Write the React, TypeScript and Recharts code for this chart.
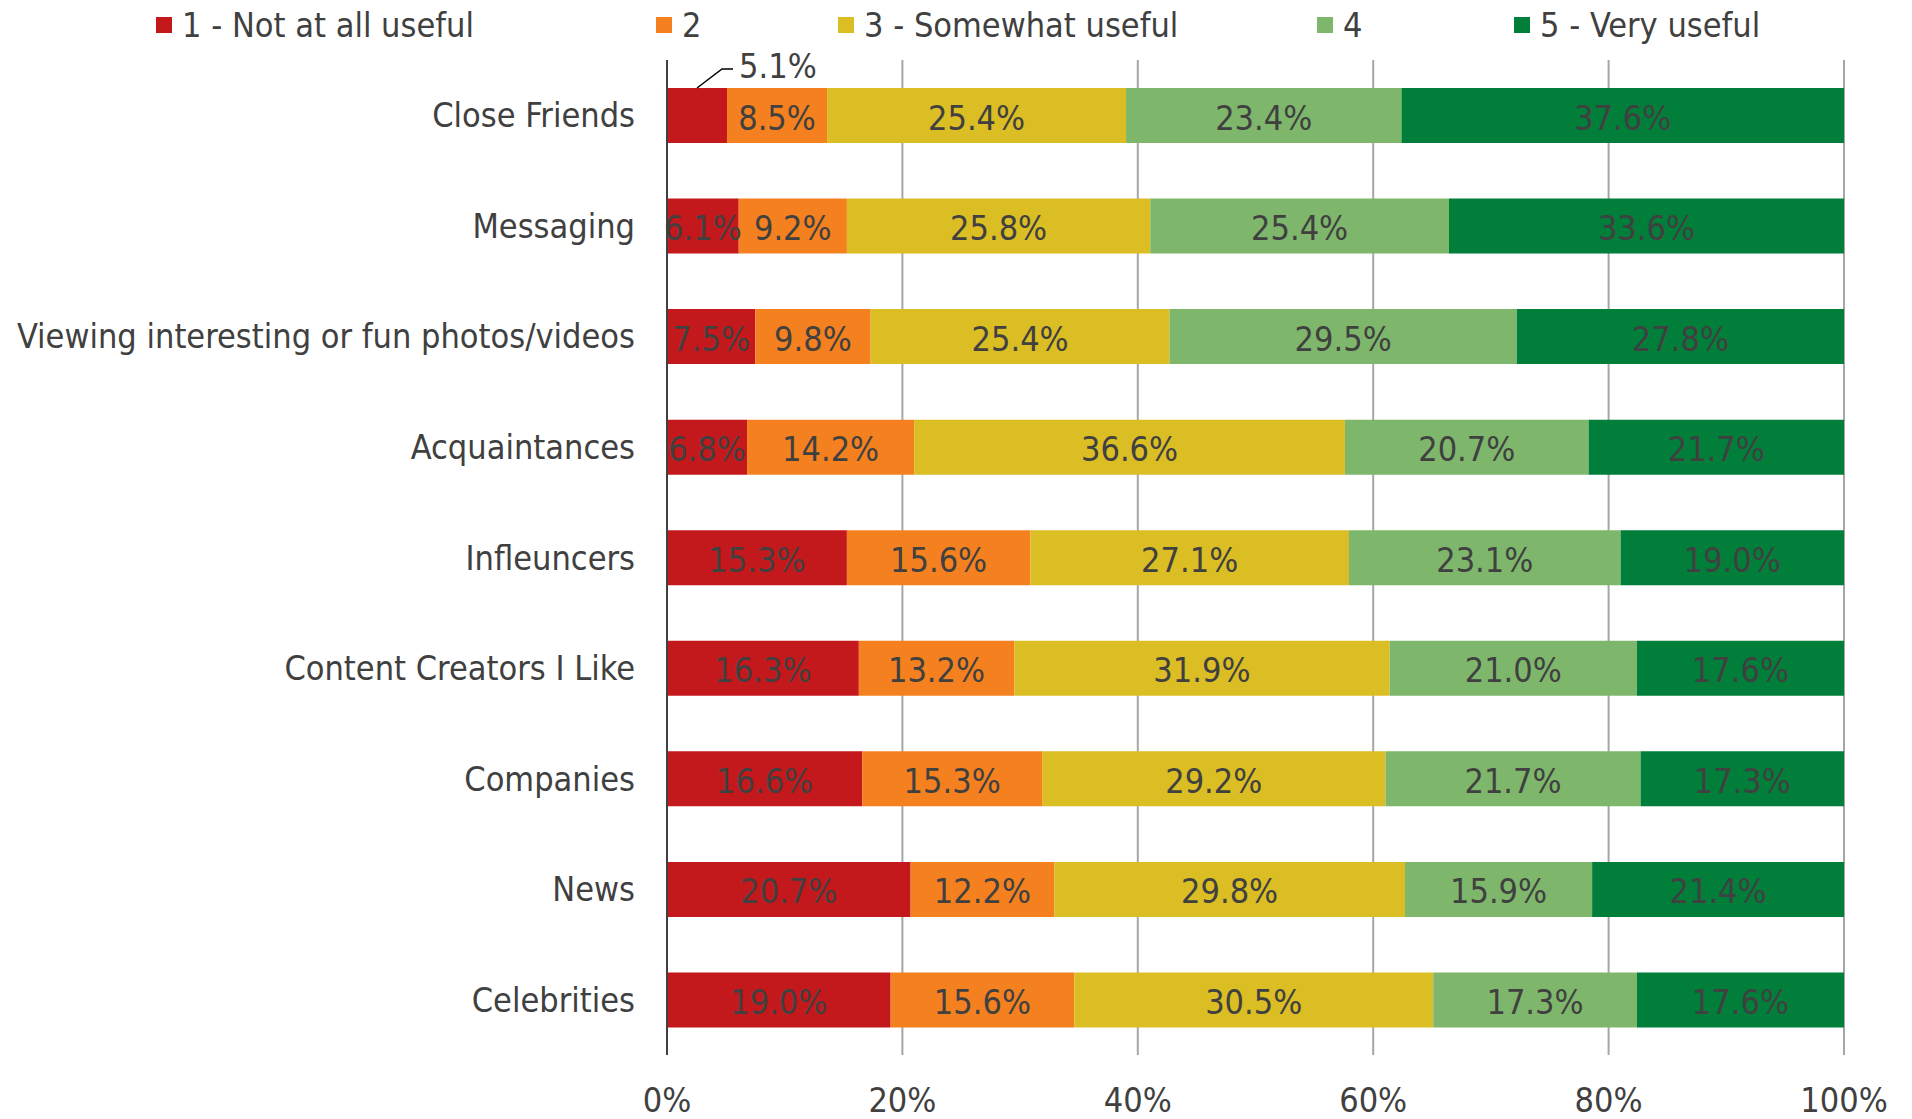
import { BarChart, Bar, XAxis, YAxis, CartesianGrid, LabelList } from 'recharts';

const CATEGORIES = [
    'Close Friends',
    'Messaging',
    'Viewing interesting or fun photos/videos',
    'Acquaintances',
    'Infleuncers',
    'Content Creators I Like',
    'Companies',
    'News',
    'Celebrities',
];

const NOT_USEFUL = [5.1, 6.1, 7.5, 6.8, 15.3, 16.3, 16.6, 20.7, 19.0];
const RATING_2 = [8.5, 9.2, 9.8, 14.2, 15.6, 13.2, 15.3, 12.2, 15.6];
const SOMEWHAT_USEFUL = [25.4, 25.8, 25.4, 36.6, 27.1, 31.9, 29.2, 29.8, 30.5];
const RATING_4 = [23.4, 25.4, 29.5, 20.7, 23.1, 21.0, 21.7, 15.9, 17.3];
const VERY_USEFUL = [37.6, 33.6, 27.8, 21.7, 19.0, 17.6, 17.3, 21.4, 17.6];

const SERIES_NAMES = ['1 - Not at all useful', '2', '3 - Somewhat useful', '4', '5 - Very useful'];
const X_TICKS = [0, 0.2, 0.4, 0.6, 0.8, 1];

const SERIES = [NOT_USEFUL, RATING_2, SOMEWHAT_USEFUL, RATING_4, VERY_USEFUL];
const KEYS = ['s1', 's2', 's3', 's4', 's5'];
const COLORS = ['#C4191C', '#F4801F', '#DBBD24', '#7EB76B', '#007E3A'];
// left edge of each legend swatch
const LEGEND_LEFT = [156, 656, 838, 1317, 1514];

const FONT = "'DejaVu Sans Condensed', 'DejaVu Sans', sans-serif";
const TEXT = '#404040';
const FONT_SIZE = 34;

const data = CATEGORIES.map((name, i) => {
    const row: Record<string, string | number> = { name };
    KEYS.forEach((k, s) => {
        row[k] = SERIES[s][i];
    });
    return row;
});

function makeLabel(seriesIdx: number) {
    return (props: any) => {
        const { x, y, width, height, index } = props;
        const value = SERIES[seriesIdx][index];
        const text = `${value.toFixed(1)}%`;
        // the tiny first segment gets its label outside, with a leader line
        if (seriesIdx === 0 && index === 0) {
            const cx = x + width / 2;
            return (
                <g>
                    <polyline
                        points={`${cx},${y} ${cx + 25},${y - 19} ${cx + 36},${y - 19}`}
                        fill="none"
                        stroke="#000"
                        strokeWidth={1.5}
                    />
                    <text
                        x={cx + 42}
                        y={y - 22}
                        fill={TEXT}
                        fontSize={FONT_SIZE}
                        fontFamily={FONT}
                        dominantBaseline="central"
                    >
                        {text}
                    </text>
                </g>
            );
        }
        return (
            <text
                x={x + width / 2}
                y={y + height / 2 + 2}
                fill={TEXT}
                fontSize={FONT_SIZE}
                fontFamily={FONT}
                textAnchor="middle"
                dominantBaseline="central"
            >
                {text}
            </text>
        );
    };
}

function TopLegend() {
    return (
        <div
            style={{
                position: 'absolute',
                top: 6,
                left: 0,
                width: 1912,
                height: 38,
                fontFamily: FONT,
                fontSize: FONT_SIZE,
                color: TEXT,
                lineHeight: '38px',
            }}
        >
            {SERIES_NAMES.map((name, i) => (
                <div
                    key={name}
                    style={{
                        position: 'absolute',
                        left: LEGEND_LEFT[i],
                        top: 0,
                        display: 'flex',
                        alignItems: 'center',
                        whiteSpace: 'nowrap',
                    }}
                >
                    <span
                        style={{
                            display: 'inline-block',
                            width: 16,
                            height: 16,
                            background: COLORS[i],
                            marginRight: 10,
                        }}
                    />
                    <span>{name}</span>
                </div>
            ))}
        </div>
    );
}

export default function App() {
    return (
        <div
            style={{
                position: 'absolute',
                left: 0,
                top: 0,
                width: 1912,
                height: 1119,
                background: '#fff',
            }}
        >
            <TopLegend />
            <BarChart
                width={1912}
                height={1119}
                data={data}
                layout="vertical"
                stackOffset="expand"
                margin={{ top: 60, right: 68, bottom: 0, left: 0 }}
                style={{ fontFamily: FONT }}
            >
                <CartesianGrid horizontal={false} stroke="#A6A6A6" strokeWidth={2} />
                <XAxis
                    type="number"
                    domain={[0, 1]}
                    ticks={X_TICKS}
                    tickFormatter={(v: number) => `${Math.round(v * 100)}%`}
                    axisLine={false}
                    tickLine={false}
                    tickMargin={27}
                    tick={{ fill: TEXT, fontSize: FONT_SIZE, fontFamily: FONT }}
                    height={64}
                />
                <YAxis
                    type="category"
                    dataKey="name"
                    width={667}
                    axisLine={{ stroke: TEXT, strokeWidth: 2 }}
                    tickLine={false}
                    tickMargin={26}
                    interval={0}
                    tick={{ fill: TEXT, fontSize: FONT_SIZE, fontFamily: FONT }}
                />
                {KEYS.map((k, s) => (
                    <Bar
                        key={k}
                        dataKey={k}
                        name={SERIES_NAMES[s]}
                        stackId="a"
                        fill={COLORS[s]}
                        barSize={55}
                        isAnimationActive={false}
                    >
                        <LabelList dataKey={k} content={makeLabel(s)} />
                    </Bar>
                ))}
            </BarChart>
        </div>
    );
}
